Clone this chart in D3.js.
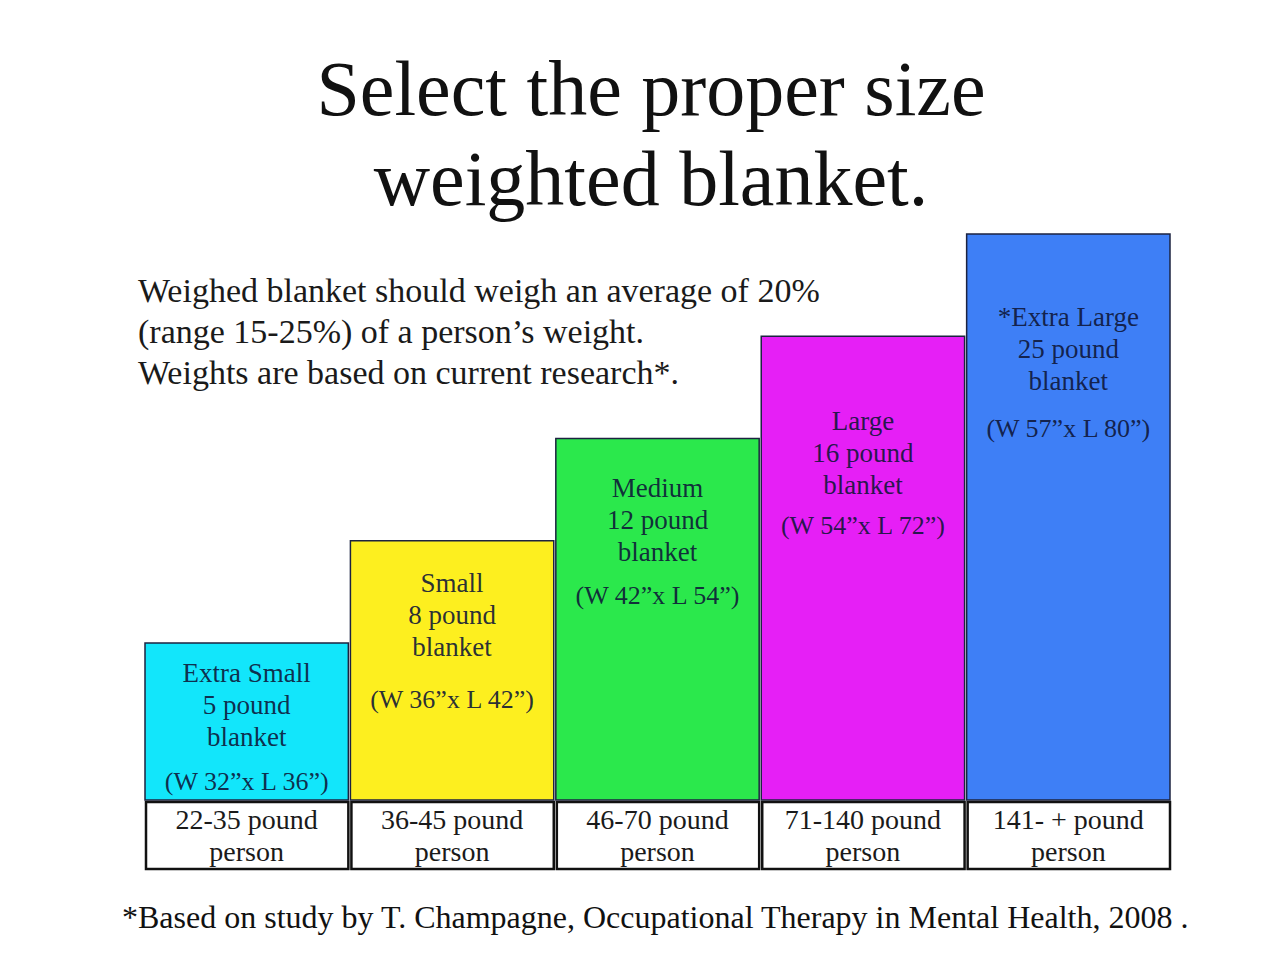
<!DOCTYPE html>
<html>
<head>
<meta charset="utf-8">
<script src="https://cdn.jsdelivr.net/npm/d3@7"></script>
<style>
  body { margin: 0; background: #fff; }
  text { font-family: "Liberation Serif", "DejaVu Serif", serif; }
</style>
</head>
<body>
<div id="graf"></div>
<script>
// Datos del cuadro
sizes = ['Extra Small', 'Small', 'Medium', 'Large', '*Extra Large']
blanketPounds = [5, 8, 12, 16, 25]
widthIn = [32, 36, 42, 54, 57]
lengthIn = [36, 42, 54, 72, 80]
personRanges = ['22-35', '36-45', '46-70', '71-140', '141- +']
steps = [1, 2, 3, 4, 5]
colores = ['#12e6fb', '#fdef1f', '#2be84c', '#e61ff6', '#3e7ff6']

titleLines = ['Select the proper size', 'weighted blanket.']
introLines = [
  'Weighed blanket should weigh an average of 20%',
  '(range 15-25%) of a person\u2019s weight.',
  'Weights are based on current research*.'
]
footnote = '*Based on study by T. Champagne, Occupational Therapy in Mental Health, 2008 .'

// Ajustes de las etiquetas dentro de las barras
labelDy = [39, 51, 58, 94, 92]
dimGap = [44, 52, 43, 40, 47]

ancho_total = 1280
alto_total = 975
baseY = 800

svg = d3.select('#graf').append('svg')
  .attr('width', ancho_total)
  .attr('height', alto_total)

// Escaladores
x = d3.scaleBand().domain(sizes).range([145, 1170]).paddingInner(0.01)
y = d3.scaleLinear().domain([1, 5]).range([643, 234])

// Titulo
svg.append('g').selectAll('text')
  .data(titleLines)
  .join('text')
  .attr('x', 651)
  .attr('y', (d, i) => 115 + i * 90)
  .attr('text-anchor', 'middle')
  .style('font-size', '78px')
  .attr('fill', '#111')
  .text(d => d)

// Texto de introduccion
svg.append('g').selectAll('text')
  .data(introLines)
  .join('text')
  .attr('x', 138)
  .attr('y', (d, i) => 302 + i * 41)
  .style('font-size', '34px')
  .attr('fill', '#1a1a1a')
  .text(d => d)

// Barras
rows = sizes.map((s, i) => ({
  size: s, pounds: blanketPounds[i], w: widthIn[i], l: lengthIn[i],
  range: personRanges[i], step: steps[i], color: colores[i], i: i
}))

bars = svg.append('g').selectAll('g')
  .data(rows)
  .join('g')

bars.append('rect')
  .attr('x', d => x(d.size))
  .attr('y', d => y(d.step))
  .attr('width', x.bandwidth())
  .attr('height', d => baseY - y(d.step))
  .attr('fill', d => d.color)
  .attr('stroke', '#1c2340')
  .attr('stroke-width', 1.5)

bars.each(function(d) {
  let g = d3.select(this)
  let cx = x(d.size) + x.bandwidth() / 2
  let top = y(d.step) + labelDy[d.i]
  let lines = [d.size, `${d.pounds} pound`, 'blanket']
  g.selectAll('text.lbl')
    .data(lines)
    .join('text')
    .attr('class', 'lbl')
    .attr('x', cx)
    .attr('y', (t, k) => top + k * 32)
    .attr('text-anchor', 'middle')
    .style('font-size', '27px')
    .attr('fill', '#0e1638')
    .attr('fill-opacity', 0.9)
    .text(t => t)
  g.append('text')
    .attr('x', cx)
    .attr('y', top + 64 + dimGap[d.i])
    .attr('text-anchor', 'middle')
    .style('font-size', '26px')
    .attr('fill', '#0e1638')
    .attr('fill-opacity', 0.9)
    .text(`(W ${d.w}\u201dx L ${d.l}\u201d)`)
})

// Tabla de pesos
cells = svg.append('g').selectAll('g')
  .data(rows)
  .join('g')

cells.append('rect')
  .attr('x', d => x(d.size) + 1)
  .attr('y', baseY + 2)
  .attr('width', x.bandwidth() - 1)
  .attr('height', 67)
  .attr('fill', '#fff')
  .attr('stroke', '#111')
  .attr('stroke-width', 2.5)

cells.append('text')
  .attr('x', d => x(d.size) + x.bandwidth() / 2)
  .attr('y', 829)
  .attr('text-anchor', 'middle')
  .style('font-size', '28px')
  .attr('fill', '#1a1a1a')
  .text(d => `${d.range} pound`)

cells.append('text')
  .attr('x', d => x(d.size) + x.bandwidth() / 2)
  .attr('y', 861)
  .attr('text-anchor', 'middle')
  .style('font-size', '28px')
  .attr('fill', '#1a1a1a')
  .text('person')

// Nota al pie
svg.append('text')
  .attr('x', 122)
  .attr('y', 928)
  .style('font-size', '32px')
  .attr('fill', '#111')
  .text(footnote)
</script>
</body>
</html>
